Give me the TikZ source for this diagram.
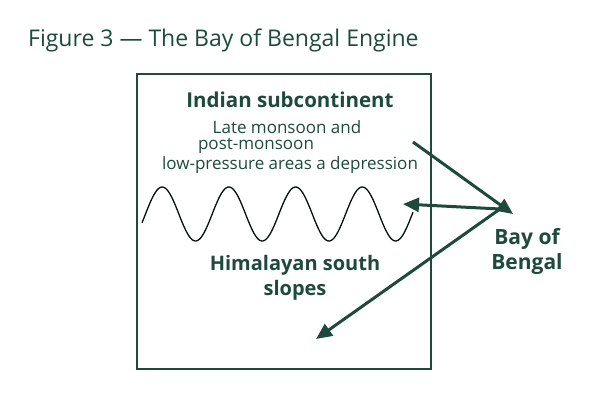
\documentclass[tikz,border=0pt]{standalone}
\usepackage{fontspec}
\setmainfont{Open Sans}
\usetikzlibrary{arrows.meta}
\definecolor{dg}{HTML}{1D4A3C}
\begin{document}
\begin{tikzpicture}[x=1pt,y=-1pt,
  txt/.style={text=dg,inner sep=0pt,align=center},
  arr/.style={draw=dg,line width=3pt,-{Triangle[length=16pt,width=14pt]}}]
\useasboundingbox (0,0) rectangle (600,400);
\node[txt,anchor=west,font=\fontsize{23}{27}\selectfont] (title) at (28,40) {Figure 3 — The Bay of Bengal Engine};
\node[draw=dg,line width=2pt,minimum width=294pt,minimum height=295pt,inner sep=0pt] (box) at (284,221.5) {};
\node[txt,font=\bfseries\fontsize{20.5}{24}\selectfont] (ind) at (290,100) {Indian subcontinent};
\node[txt,font=\fontsize{17}{20}\selectfont] (l1) at (287,127) {Late monsoon and};
\node[txt,font=\fontsize{17}{20}\selectfont] (l2) at (256,146) {post-monsoon};
\node[txt,font=\fontsize{17}{20}\selectfont] (l3) at (290,165) {low-pressure areas a depression};
\node[txt,font=\fontsize{20}{25}\selectfont\bfseries] (him) at (295,278) {Himalayan south\\slopes};
\node[txt,font=\fontsize{21}{25}\selectfont\bfseries] (bay) at (527,251) {Bay of\\Bengal};
\draw[black!80!dg,line width=1.3pt] plot[domain=142:413,samples=200,smooth] (\x,{214-27*sin((\x-145.5)*5.397)});
\coordinate (hub) at (500,209);
\coordinate (src) at (413,142);
\coordinate (wv) at (403,204);
\coordinate (sl) at (316,339);
\draw[arr] (src) -- (513,214);
\draw[arr] (hub) -- (wv);
\draw[arr] (hub) -- (sl);
\end{tikzpicture}
\end{document}
